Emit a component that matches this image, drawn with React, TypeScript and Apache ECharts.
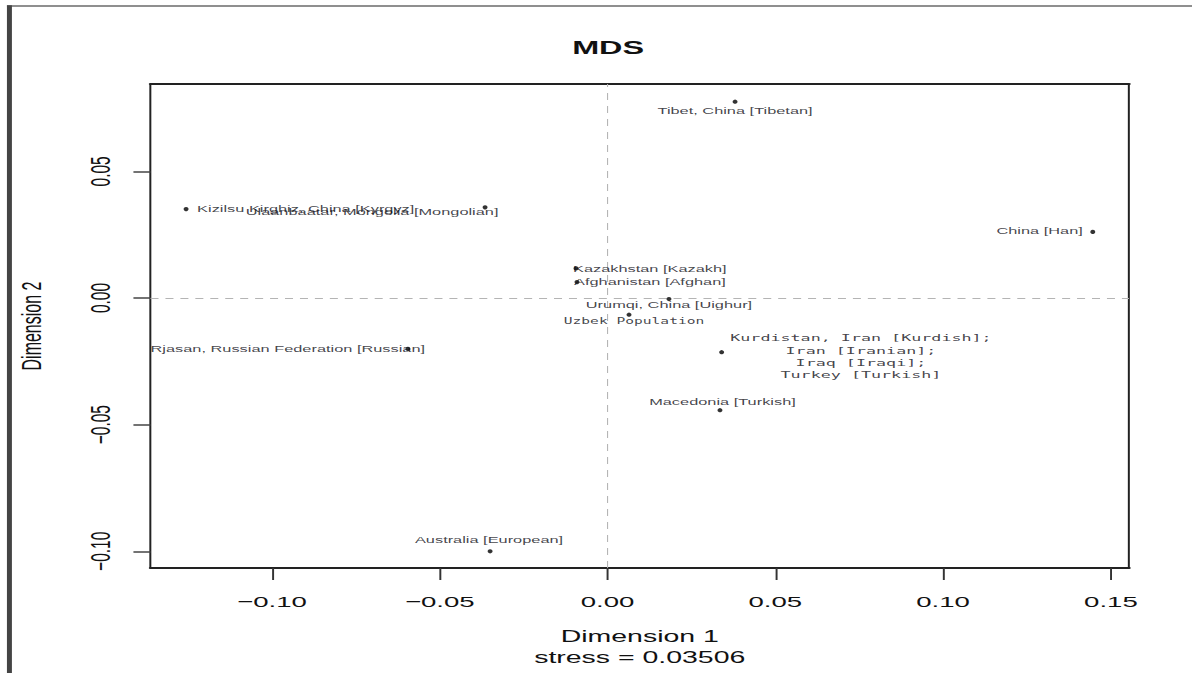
import React, { useEffect, useRef } from "react";
import * as echarts from "echarts";

// ---- data ----
const populations = [
  "Kizilsu Kirghiz, China [Kyrgyz]",
  "Ulaanbaatar, Mongolia [Mongolian]",
  "Tibet, China [Tibetan]",
  "China [Han]",
  "Kazakhstan [Kazakh]",
  "Afghanistan [Afghan]",
  "Urumqi, China [Uighur]",
  "Uzbek Population",
  "Kurdistan, Iran [Kurdish];\nIran [Iranian];\nIraq [Iraqi];\nTurkey [Turkish]",
  "Macedonia [Turkish]",
  "Rjasan, Russian Federation [Russian]",
  "Australia [European]",
];
const dim1 = [-0.1256, -0.0365, 0.038, 0.1446, -0.0094, -0.0091, 0.0183, 0.0064, 0.034, 0.0335, -0.0595, -0.035];
const dim2 = [0.0351, 0.0358, 0.0775, 0.0261, 0.0117, 0.0063, -0.0004, -0.0066, -0.0214, -0.0443, -0.0201, -0.1];
const xTicks = [-0.1, -0.05, 0, 0.05, 0.1, 0.15];
const yTicks = [-0.1, -0.05, 0, 0.05];
const titleText = "MDS";
const xName = "Dimension 1";
const stressText = "stress = 0.03506";
const yName = "Dimension 2";

// ---- layout / style (inner coordinates, stretched horizontally by K) ----
const K = 1192 / 670;
const W = 670;
const H = 673;
type LabelStyle = { align: string; dx: number; dy: number; mono?: number; lh?: number };
const labelStyles: LabelStyle[] = [
  { align: "left", dx: 6.2, dy: 0 },
  { align: "center", dx: -63.5, dy: 5 },
  { align: "center", dx: 0, dy: 9 },
  { align: "right", dx: -5.6, dy: -1 },
  { align: "left", dx: -1.7, dy: 1 },
  { align: "left", dx: -1.7, dy: 0 },
  { align: "center", dx: 0, dy: 6 },
  { align: "center", dx: 2.8, dy: 6, mono: 8.2 },
  { align: "center", dx: 78.3, dy: 4, mono: 9.4, lh: 12.2 },
  { align: "center", dx: 1.4, dy: -8 },
  { align: "center", dx: -67.5, dy: 0 },
  { align: "center", dx: -0.6, dy: -11 },
];

const SANS = "'Liberation Sans', Arial, sans-serif";
const MONO = "'DejaVu Sans Mono', monospace";
const fmt = (v: number) => v.toFixed(2).replace("-", "\u2212");

export default function App() {
  const ref = useRef<HTMLDivElement>(null);
  useEffect(() => {
    if (!ref.current) return;
    const chart = echarts.init(ref.current, null, { renderer: "svg", width: W, height: H });
    const xMin = -0.1362, xMax = 0.1554, yMin = -0.1066, yMax = 0.0845;
    const data = populations.map((name, i) => {
      const s = labelStyles[i];
      return {
        name,
        value: [dim1[i], dim2[i]],
        label: {
          show: true,
          position: "inside",
          offset: [s.dx, s.dy],
          align: s.align,
          verticalAlign: "middle",
          color: "#111118",
          textBorderWidth: 0,
          fontFamily: s.mono ? MONO : SANS,
          fontSize: s.mono ? s.mono : 9.2,
          lineHeight: s.lh ? s.lh : 11,
          formatter: "{b}",
        },
      };
    });
    chart.setOption({
      animation: false,
      backgroundColor: "#ffffff",
      title: {
        text: titleText,
        left: 341.8,
        top: 39,
        padding: 0,
        textAlign: "center",
        textStyle: { fontFamily: SANS, fontWeight: "bold", fontSize: 18.2, color: "#111" },
      },
      graphic: [
        { type: "rect", shape: { x: 3.9, y: 5.3, width: W, height: 1.5 }, style: { fill: "#6a6a6a" } },
        { type: "rect", shape: { x: 3.9, y: 5.3, width: 2.8, height: H }, style: { fill: "#444" } },
      ],
      grid: { left: 84.6, top: 84, width: 550, height: 491, show: false },
      xAxis: [
        {
          type: "value",
          min: xMin,
          max: xMax,
          position: "bottom",
          name: xName + "\n" + stressText,
          nameLocation: "middle",
          nameGap: 58,
          nameTextStyle: { fontFamily: SANS, fontSize: 16, color: "#111", lineHeight: 21 },
          axisLine: { show: true, onZero: false, lineStyle: { color: "#222", width: 2 } },
          axisTick: { show: true, customValues: xTicks, length: 12, lineStyle: { color: "#333", width: 1.1 } },
          axisLabel: {
            customValues: xTicks,
            formatter: (v: number) => fmt(v),
            fontFamily: SANS,
            fontSize: 15.5,
            color: "#111",
            margin: 26,
          },
          splitLine: { show: false },
        },
        {
          type: "value",
          min: xMin,
          max: xMax,
          position: "top",
          axisLine: { show: true, onZero: false, lineStyle: { color: "#222", width: 2 } },
          axisTick: { show: false },
          axisLabel: { show: false },
          splitLine: { show: false },
        },
      ],
      yAxis: [
        {
          type: "value",
          min: yMin,
          max: yMax,
          position: "left",
          name: yName,
          nameLocation: "middle",
          nameGap: 59,
          nameRotate: 90,
          nameTextStyle: { fontFamily: SANS, fontSize: 16, color: "#111" },
          axisLine: { show: true, onZero: false, lineStyle: { color: "#222", width: 1.12 } },
          axisTick: { show: true, customValues: yTicks, length: 9.6, lineStyle: { color: "#444", width: 1.5 } },
          axisLabel: {
            customValues: yTicks,
            formatter: (v: number) => fmt(v),
            rotate: 90,
            fontFamily: SANS,
            fontSize: 15.5,
            color: "#111",
            margin: 20,
          },
          splitLine: { show: false },
        },
        {
          type: "value",
          min: yMin,
          max: yMax,
          position: "right",
          axisLine: { show: true, onZero: false, lineStyle: { color: "#222", width: 1.12 } },
          axisTick: { show: false },
          axisLabel: { show: false },
          splitLine: { show: false },
        },
      ],
      series: [
        {
          type: "scatter",
          xAxisIndex: 0,
          yAxisIndex: 0,
          symbol: "circle",
          symbolSize: [2.8, 4.2],
          itemStyle: { color: "#000" },
          data,
          markLine: {
            silent: true,
            symbol: "none",
            label: { show: false },
            z: 1,
            data: [
              { xAxis: 0, lineStyle: { color: "#b4b4b4", type: [7, 6], width: 0.6 } },
              { yAxis: 0, lineStyle: { color: "#b4b4b4", type: [4.5, 3.9], width: 1 } },
            ],
          },
        },
      ],
    });
    return () => chart.dispose();
  }, []);
  return (
    <div
      ref={ref}
      style={{
        position: "absolute",
        left: 0,
        top: 0,
        width: W + "px",
        height: H + "px",
        transform: `scaleX(${K})`,
        transformOrigin: "0 0",
        background: "#fff",
      }}
    />
  );
}
